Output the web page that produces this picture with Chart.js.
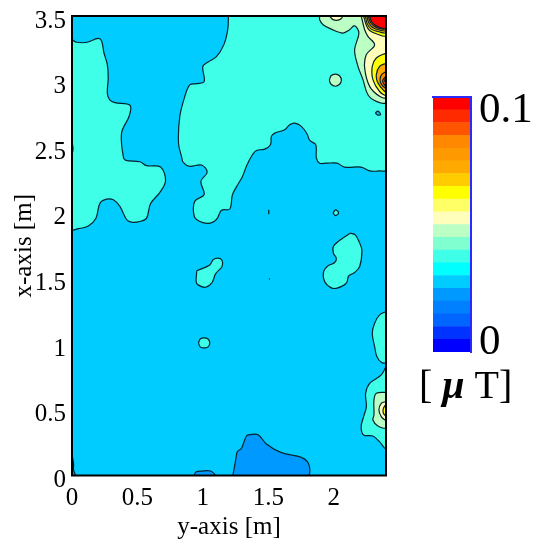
<!DOCTYPE html>
<html>
<head>
<meta charset="utf-8">
<script src="https://cdn.jsdelivr.net/npm/chart.js@4"></script>
<style>
    body { margin: 0; background: #fff; }
    #wrap { position: relative; width: 539px; height: 545px; overflow: hidden; }
    #fieldChart { position: absolute; left: 0; top: 0; }
    #barChart { position: absolute; left: 400px; top: 70px; }
    #unit { position: absolute; left: 419px; top: 361px; font: 40px "Liberation Serif"; white-space: pre; }
    #unit i { font-weight: bold; }
</style>
</head>
<body>
<div id="wrap">
    <canvas id="fieldChart" width="539" height="545"></canvas>
    <canvas id="barChart" width="139" height="310"></canvas>
    <div id="unit">[ <i>μ</i> T]</div>
</div>
<script>
const xTicks = [0, 0.5, 1, 1.5, 2];
const yTicks = [0, 0.5, 1, 1.5, 2, 2.5, 3, 3.5];
const barLabels = ['0', '0.1'];
const barStep = 0.005;

// colour of each of the 20 field levels, lowest first
const levelColors = ['#0000ff', '#0033ff', '#0066ff', '#0080ff', '#0099ff', '#00ccff', '#00ffff', '#40ffe8', '#80ffd0', '#bbffc4',
    '#ffffbb', '#ffff66', '#ffff00', '#ffcc00', '#ffaa00', '#ff9900', '#ff8800', '#ff5500', '#ff2a00', '#ff0000'];

// contour outlines, [y-axis m, x-axis m]
const fieldFloor = [[0, 0], [2.4, 0], [2.4, 3.5], [0, 3.5]];
const lowBottomLarge = [[1.229, 0], [1.249, 0.105], [1.264, 0.182], [1.295, 0.207], [1.333, 0.301], [1.359, 0.311], [1.422, 0.311], [1.486, 0.24], [1.6, 0.174], [1.753, 0.138], [1.799, 0.105], [1.817, 0.055], [1.804, 0]];
const lowBottomSmall = [[0.934, 0], [0.947, 0.027], [0.99, 0.034], [1.059, 0.034], [1.092, 0]];
const lowCorner = [[0, 0.156], [0.012, 0.092], [0.012, 0.042], [0.025, 0], [0, 0]];
const midLeft = [[0, 3.32], [0.036, 3.3], [0.117, 3.3], [0.2, 3.33], [0.226, 3.31], [0.244, 3.22], [0.27, 3.13], [0.277, 3.03], [0.27, 2.91], [0.29, 2.86], [0.328, 2.84], [0.443, 2.82], [0.438, 2.74], [0.379, 2.61], [0.392, 2.43], [0.412, 2.4], [0.519, 2.39], [0.57, 2.36], [0.677, 2.35], [0.715, 2.245], [0.672, 2.156], [0.6, 2.07], [0.57, 1.96], [0.519, 1.935], [0.455, 1.93], [0.417, 1.95], [0.366, 2.05], [0.316, 2.1], [0.265, 2.105], [0.214, 2.075], [0.183, 1.96], [0.125, 1.9], [0.048, 1.88], [0, 1.875]];
const midRight = [[1.196, 3.5], [1.19, 3.395], [1.16, 3.28], [1.104, 3.19], [1.04, 3.15], [1.0, 3.115], [1.01, 3.0], [0.95, 2.985], [0.9, 2.975], [0.863, 2.89], [0.824, 2.735], [0.814, 2.53], [0.837, 2.43], [0.85, 2.385], [0.9, 2.355], [0.99, 2.365], [1.033, 2.31], [0.985, 2.24], [1.01, 2.14], [0.939, 2.09], [0.929, 2.0], [0.952, 1.95], [1.04, 1.92], [1.104, 1.95], [1.143, 2.02], [1.206, 2.03], [1.226, 2.138], [1.262, 2.207], [1.303, 2.278], [1.338, 2.367], [1.379, 2.443], [1.41, 2.476], [1.473, 2.486], [1.517, 2.519], [1.524, 2.583], [1.55, 2.608], [1.626, 2.634], [1.664, 2.672], [1.702, 2.684], [1.753, 2.659], [1.796, 2.603], [1.817, 2.552], [1.863, 2.519], [1.868, 2.417], [1.893, 2.379], [1.944, 2.379], [2.025, 2.379], [2.084, 2.349], [2.21, 2.349], [2.275, 2.32], [2.351, 2.32], [2.4, 2.328], [2.4, 3.5]];
const midBlobLeft = [[0.954, 1.56], [0.949, 1.477], [0.964, 1.452], [1.02, 1.434], [1.071, 1.47], [1.097, 1.536], [1.147, 1.592], [1.147, 1.637], [1.117, 1.655], [1.079, 1.643], [1.053, 1.604]];
const midBlobRight = [[2.127, 1.846], [2.165, 1.833], [2.199, 1.77], [2.216, 1.714], [2.199, 1.592], [2.16, 1.546], [2.115, 1.52], [2.097, 1.465], [2.033, 1.429], [1.982, 1.429], [1.931, 1.477], [1.923, 1.553], [1.957, 1.597], [2.008, 1.622], [2.02, 1.655], [1.998, 1.693], [1.998, 1.744], [2.058, 1.8]];
const midDot = [[0.967, 1.01], [0.98, 1.04], [1.01, 1.048], [1.04, 1.04], [1.053, 1.01], [1.04, 0.98], [1.01, 0.972], [0.98, 0.98]];
const midEdgeNick = [[0, 2.54], [0.008, 2.49], [0, 2.45]];
const midDiamond = [[1.995, 2.0], [2.015, 2.024], [2.038, 2.0], [2.015, 1.98]];
const midSpeckTop = [[1.504, 2.025], [1.504, 1.99]];
const midSpeckLow = [[1.505, 1.497], [1.513, 1.497]];
const midRightUpper = [[2.4, 1.249], [2.351, 1.223], [2.313, 1.16], [2.295, 1.084], [2.313, 0.982], [2.33, 0.906], [2.364, 0.862], [2.4, 0.862]];
const midRightLower = [[2.4, 0.83], [2.364, 0.766], [2.275, 0.702], [2.244, 0.626], [2.25, 0.525], [2.229, 0.448], [2.21, 0.372], [2.229, 0.309], [2.3, 0.301], [2.35, 0.258], [2.4, 0.207]];
const floorLoop = [[2.318, 2.76], [2.338, 2.775], [2.359, 2.75], [2.338, 2.745]];
const paleTop = [[1.893, 3.5], [1.893, 3.472], [1.919, 3.434], [1.982, 3.4], [2.071, 3.37], [2.122, 3.396], [2.16, 3.426], [2.193, 3.37], [2.16, 3.243], [2.186, 3.116], [2.224, 3.015], [2.262, 2.9], [2.326, 2.85], [2.4, 2.845], [2.4, 3.5]];
const paleDot = [[1.967, 3.01], [1.98, 3.045], [2.013, 3.058], [2.045, 3.045], [2.059, 3.01], [2.045, 2.98], [2.013, 2.965], [1.98, 2.98]];
const paleLow = [[2.4, 0.634], [2.326, 0.626], [2.308, 0.575], [2.308, 0.461], [2.3, 0.423], [2.338, 0.377], [2.4, 0.367]];
const creamTopSmall = [[1.969, 3.5], [1.995, 3.472], [2.046, 3.472], [2.066, 3.5]];
const creamTop = [[2.211, 3.5], [2.237, 3.395], [2.262, 3.345], [2.313, 3.28], [2.249, 3.205], [2.237, 3.103], [2.275, 2.964], [2.351, 2.888], [2.4, 2.882], [2.4, 3.5]];
const creamLow = [[2.4, 0.563], [2.364, 0.55], [2.346, 0.5], [2.364, 0.449], [2.4, 0.423]];
const yellowTop = [[2.229, 3.5], [2.249, 3.43], [2.275, 3.39], [2.326, 3.365], [2.4, 3.35], [2.4, 3.5]];
const yellowMid = [[2.4, 3.218], [2.326, 3.18], [2.295, 3.116], [2.3, 3.015], [2.351, 2.925], [2.4, 2.9]];
const yellowLow = [[2.4, 0.542], [2.38, 0.511], [2.38, 0.474], [2.4, 0.456]];
const goldTop = [[2.242, 3.5], [2.257, 3.44], [2.287, 3.4], [2.338, 3.382], [2.4, 3.375], [2.4, 3.5]];
const goldMid = [[2.4, 3.14], [2.351, 3.116], [2.326, 3.053], [2.339, 2.989], [2.4, 2.926]];
const orangeTop = [[2.254, 3.5], [2.267, 3.45], [2.295, 3.415], [2.343, 3.395], [2.4, 3.39], [2.4, 3.5]];
const orangeMid = [[2.4, 3.078], [2.367, 3.053], [2.354, 3.015], [2.367, 2.977], [2.4, 2.952]];
const darkTop = [[2.265, 3.5], [2.277, 3.46], [2.305, 3.425], [2.35, 3.405], [2.4, 3.405], [2.4, 3.5]];
const darkMid = [[2.4, 3.04], [2.38, 3.02], [2.375, 3.0], [2.385, 2.98], [2.4, 2.965]];
const redTop = [[2.275, 3.5], [2.288, 3.46], [2.318, 3.43], [2.359, 3.41], [2.4, 3.41], [2.4, 3.5]];
const redMid = [[2.4, 3.025], [2.39, 3.01], [2.4, 2.99]];

// drawn in this order, each with its level
const contours = [
    [fieldFloor, 5], [lowBottomLarge, 4], [lowBottomSmall, 4], [lowCorner, 4],
    [midLeft, 7], [midRight, 7], [midBlobLeft, 7], [midBlobRight, 7], [midDot, 7], [midEdgeNick, 7], [midDiamond, 7],
    [midSpeckTop, 7], [midSpeckLow, 7], [midRightUpper, 7], [midRightLower, 7], [floorLoop, 5],
    [paleTop, 9], [paleDot, 9], [paleLow, 9], [creamTopSmall, 10], [creamTop, 10], [creamLow, 10],
    [yellowTop, 12], [yellowMid, 12], [yellowLow, 12], [goldTop, 13], [goldMid, 14], [orangeTop, 15], [orangeMid, 16],
    [darkTop, 17], [darkMid, 17], [redTop, 19], [redMid, 19]
];

const serif = 'Liberation Serif';

const frame = {
    id: 'frame',
    afterDatasetsDraw(chart) {
        const { ctx, chartArea: a } = chart;
        ctx.save();
        ctx.strokeStyle = '#000';
        ctx.lineWidth = 2;
        ctx.strokeRect(a.left, a.top, a.right - a.left, a.bottom - a.top);
        ctx.restore();
    }
};

new Chart(document.getElementById('fieldChart'), {
    type: 'scatter',
    data: {
        datasets: contours.map(([points, level], i) => ({
            data: points.concat([points[0]]).map(p => ({ x: p[0], y: p[1] })),
            order: contours.length - i, // later contours go on top
            showLine: true,
            fill: 'shape',
            backgroundColor: levelColors[level],
            borderColor: '#06222c',
            borderWidth: 1.2,
            tension: 0.35,
            pointRadius: 0
        }))
    },
    options: {
        responsive: false,
        animation: false,
        layout: { padding: { top: 16, right: 153 } },
        plugins: { legend: { display: false }, tooltip: { enabled: false } },
        scales: {
            x: {
                type: 'linear',
                min: 0,
                max: 2.4,
                grid: { display: false, tickLength: 0 },
                border: { display: false },
                afterBuildTicks: scale => { scale.ticks = xTicks.map(value => ({ value })); },
                afterFit: scale => { scale.height = 69.5; },
                ticks: { color: '#000', font: { family: serif, size: 25 }, padding: 8, maxRotation: 0, callback: v => String(v) },
                title: { display: true, text: 'y-axis [m]', color: '#000', font: { family: serif, size: 25 }, padding: { top: 0, bottom: 3 } }
            },
            y: {
                type: 'linear',
                min: 0,
                max: 3.5,
                grid: { display: false, tickLength: 0 },
                border: { display: false },
                afterBuildTicks: scale => { scale.ticks = yTicks.map(value => ({ value })); },
                afterFit: scale => {
                    scale.width = 72;
                    scale.paddingTop = 0;
                    scale.paddingBottom = 0;
                },
                ticks: { color: '#000', font: { family: serif, size: 25 }, padding: 6, labelOffset: 5, callback: v => String(v) },
                title: { display: true, text: 'x-axis [m]', color: '#000', font: { family: serif, size: 25 }, padding: { top: 9, bottom: 0 } }
            }
        }
    },
    plugins: [frame]
});

new Chart(document.getElementById('barChart'), {
    type: 'bar',
    data: {
        labels: [''],
        datasets: levelColors.map(color => ({
            data: [barStep],
            backgroundColor: color,
            barPercentage: 1,
            categoryPercentage: 1,
            borderWidth: 0
        }))
    },
    options: {
        responsive: false,
        animation: false,
        layout: { padding: { left: 33, top: 27, bottom: 28 } },
        plugins: { legend: { display: false }, tooltip: { enabled: false } },
        scales: {
            x: {
                position: 'top',
                stacked: true,
                grid: { display: false },
                border: { color: '#2a2aff', width: 2, z: 1 },
                ticks: { display: false },
                afterFit: scale => { scale.height = 0; }
            },
            y: {
                position: 'right',
                stacked: true,
                min: 0,
                max: 0.1,
                grid: { display: false, tickLength: 0 },
                border: { color: '#2a2aff', width: 2, z: 1 },
                // labels sit a little inside the ends of the bar in the reference
                afterBuildTicks: scale => { scale.ticks = [{ value: 0.0035 }, { value: 0.0945 }]; },
                afterFit: scale => {
                    scale.width = 68;
                    scale.paddingTop = 0;
                    scale.paddingBottom = 0;
                },
                ticks: {
                    color: '#000',
                    font: { family: serif, size: 43 },
                    padding: 8,
                    callback: (v, i) => barLabels[i]
                }
            }
        }
    }
});
</script>
</body>
</html>
